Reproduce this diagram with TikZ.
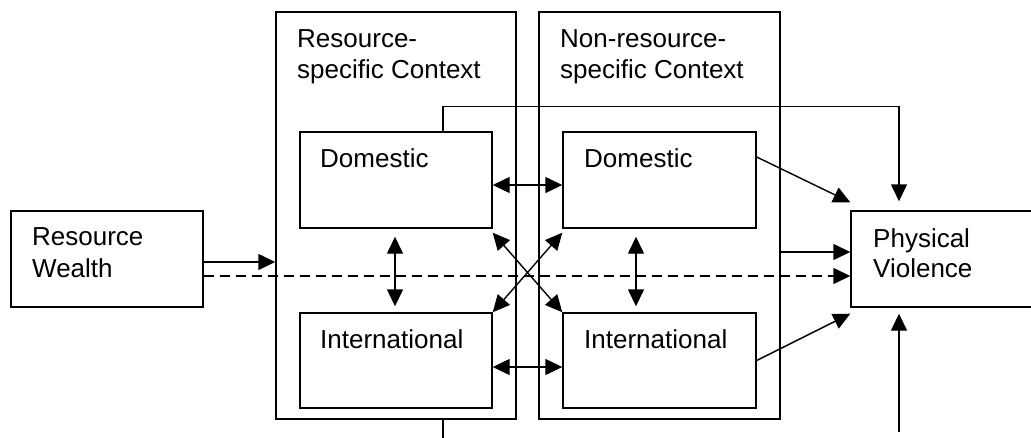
\documentclass[tikz,border=0pt]{standalone}
\usepackage{fontspec}
\setmainfont{Liberation Sans}
\usetikzlibrary{arrows.meta}
\begin{document}
\begin{tikzpicture}[x=1pt,y=-1pt,
  box/.style={draw,line width=1.4pt,rectangle,inner sep=0pt},
  lbl/.style={anchor=base west,inner sep=0pt,font=\fontsize{26pt}{31pt}\selectfont},
  arr/.style={line width=1.4pt,-{Triangle[length=17pt,width=16pt]}},
  darr/.style={line width=1.4pt,{Triangle[length=17pt,width=16pt]}-{Triangle[length=17pt,width=16pt]}},
  ln/.style={line width=1.4pt}]
\clip (0,0) rectangle (1031,437);
\fill[white] (0,0) rectangle (1031,437);
% boxes
\node[box,minimum width=192pt,minimum height=96pt] (rw) at (107,259) {};
\node[box,minimum width=240pt,minimum height=407pt] (lb) at (396,215.5) {};
\node[box,minimum width=241pt,minimum height=407pt] (rb) at (659.5,215.5) {};
\node[box,minimum width=192pt,minimum height=96pt] (ld) at (396,180) {};
\node[box,minimum width=192pt,minimum height=95pt] (li) at (396,360.5) {};
\node[box,minimum width=193pt,minimum height=96pt] (rd) at (659.5,180) {};
\node[box,minimum width=193pt,minimum height=95pt] (ri) at (659.5,360.5) {};
\node[box,minimum width=209pt,minimum height=96pt] (pv) at (955.5,259) {};
% texts
\node[lbl] (t1) at (32,245) {Resource};
\node[lbl] (t2) at (32,277) {Wealth};
\node[lbl] (t3) at (297,47) {Resource-};
\node[lbl] (t4) at (297,78) {specific Context};
\node[lbl] (t5) at (560,47) {Non-resource-};
\node[lbl] (t6) at (560,78) {specific Context};
\node[lbl] (t7) at (320,167) {Domestic};
\node[lbl] (t8) at (584,167) {Domestic};
\node[lbl] (t9) at (320,348) {International};
\node[lbl] (t10) at (584,348) {International};
\node[lbl] (t11) at (873,247) {Physical};
\node[lbl] (t12) at (873,277) {Violence};
% connectors
\draw[arr] ([yshift=-3pt]rw.east) -- ([yshift=-3pt]rw.east -| lb.west);
\draw[arr,dash pattern=on 10pt off 6pt] ([yshift=-17pt]rw.east) -- ([yshift=-17pt]pv.west);
\draw[darr] ([yshift=-5pt]ld.east) -- ([yshift=-5pt]rd.west);
\draw[darr] ([yshift=-6.5pt]li.east) -- ([yshift=-6.5pt]ri.west);
\draw[darr] ([yshift=-4pt]ld.south east) -- (ri.north west);
\draw[darr] ([yshift=-4pt]rd.south west) -- (li.north east);
\draw[darr] ([xshift=-1pt,yshift=-8pt]ld.south) -- ([xshift=-1pt,yshift=6pt]li.north);
\draw[darr] ([xshift=-23.5pt,yshift=-8pt]rd.south) -- ([xshift=-23.5pt,yshift=6pt]ri.north);
\draw[arr] ([yshift=23pt]rd.east) -- ([yshift=8pt]pv.north west);
\draw[arr] ([yshift=7pt]pv.west -| rb.east) -- ([yshift=7pt]pv.west);
\draw[arr] (ri.east) -- ([yshift=-6pt]pv.south west);
\draw[arr] ([xshift=47pt]ld.north) -- ++(0,-25) -| ([xshift=-56.5pt,yshift=9pt]pv.north);
\coordinate (bot) at (899,432);
\draw[arr] (bot) -- ([xshift=-56.5pt,yshift=-6pt]pv.south);
\coordinate (lbot) at (443,440);
\draw[ln] ([xshift=47pt]lb.south) -- (lbot);
\end{tikzpicture}
\end{document}
